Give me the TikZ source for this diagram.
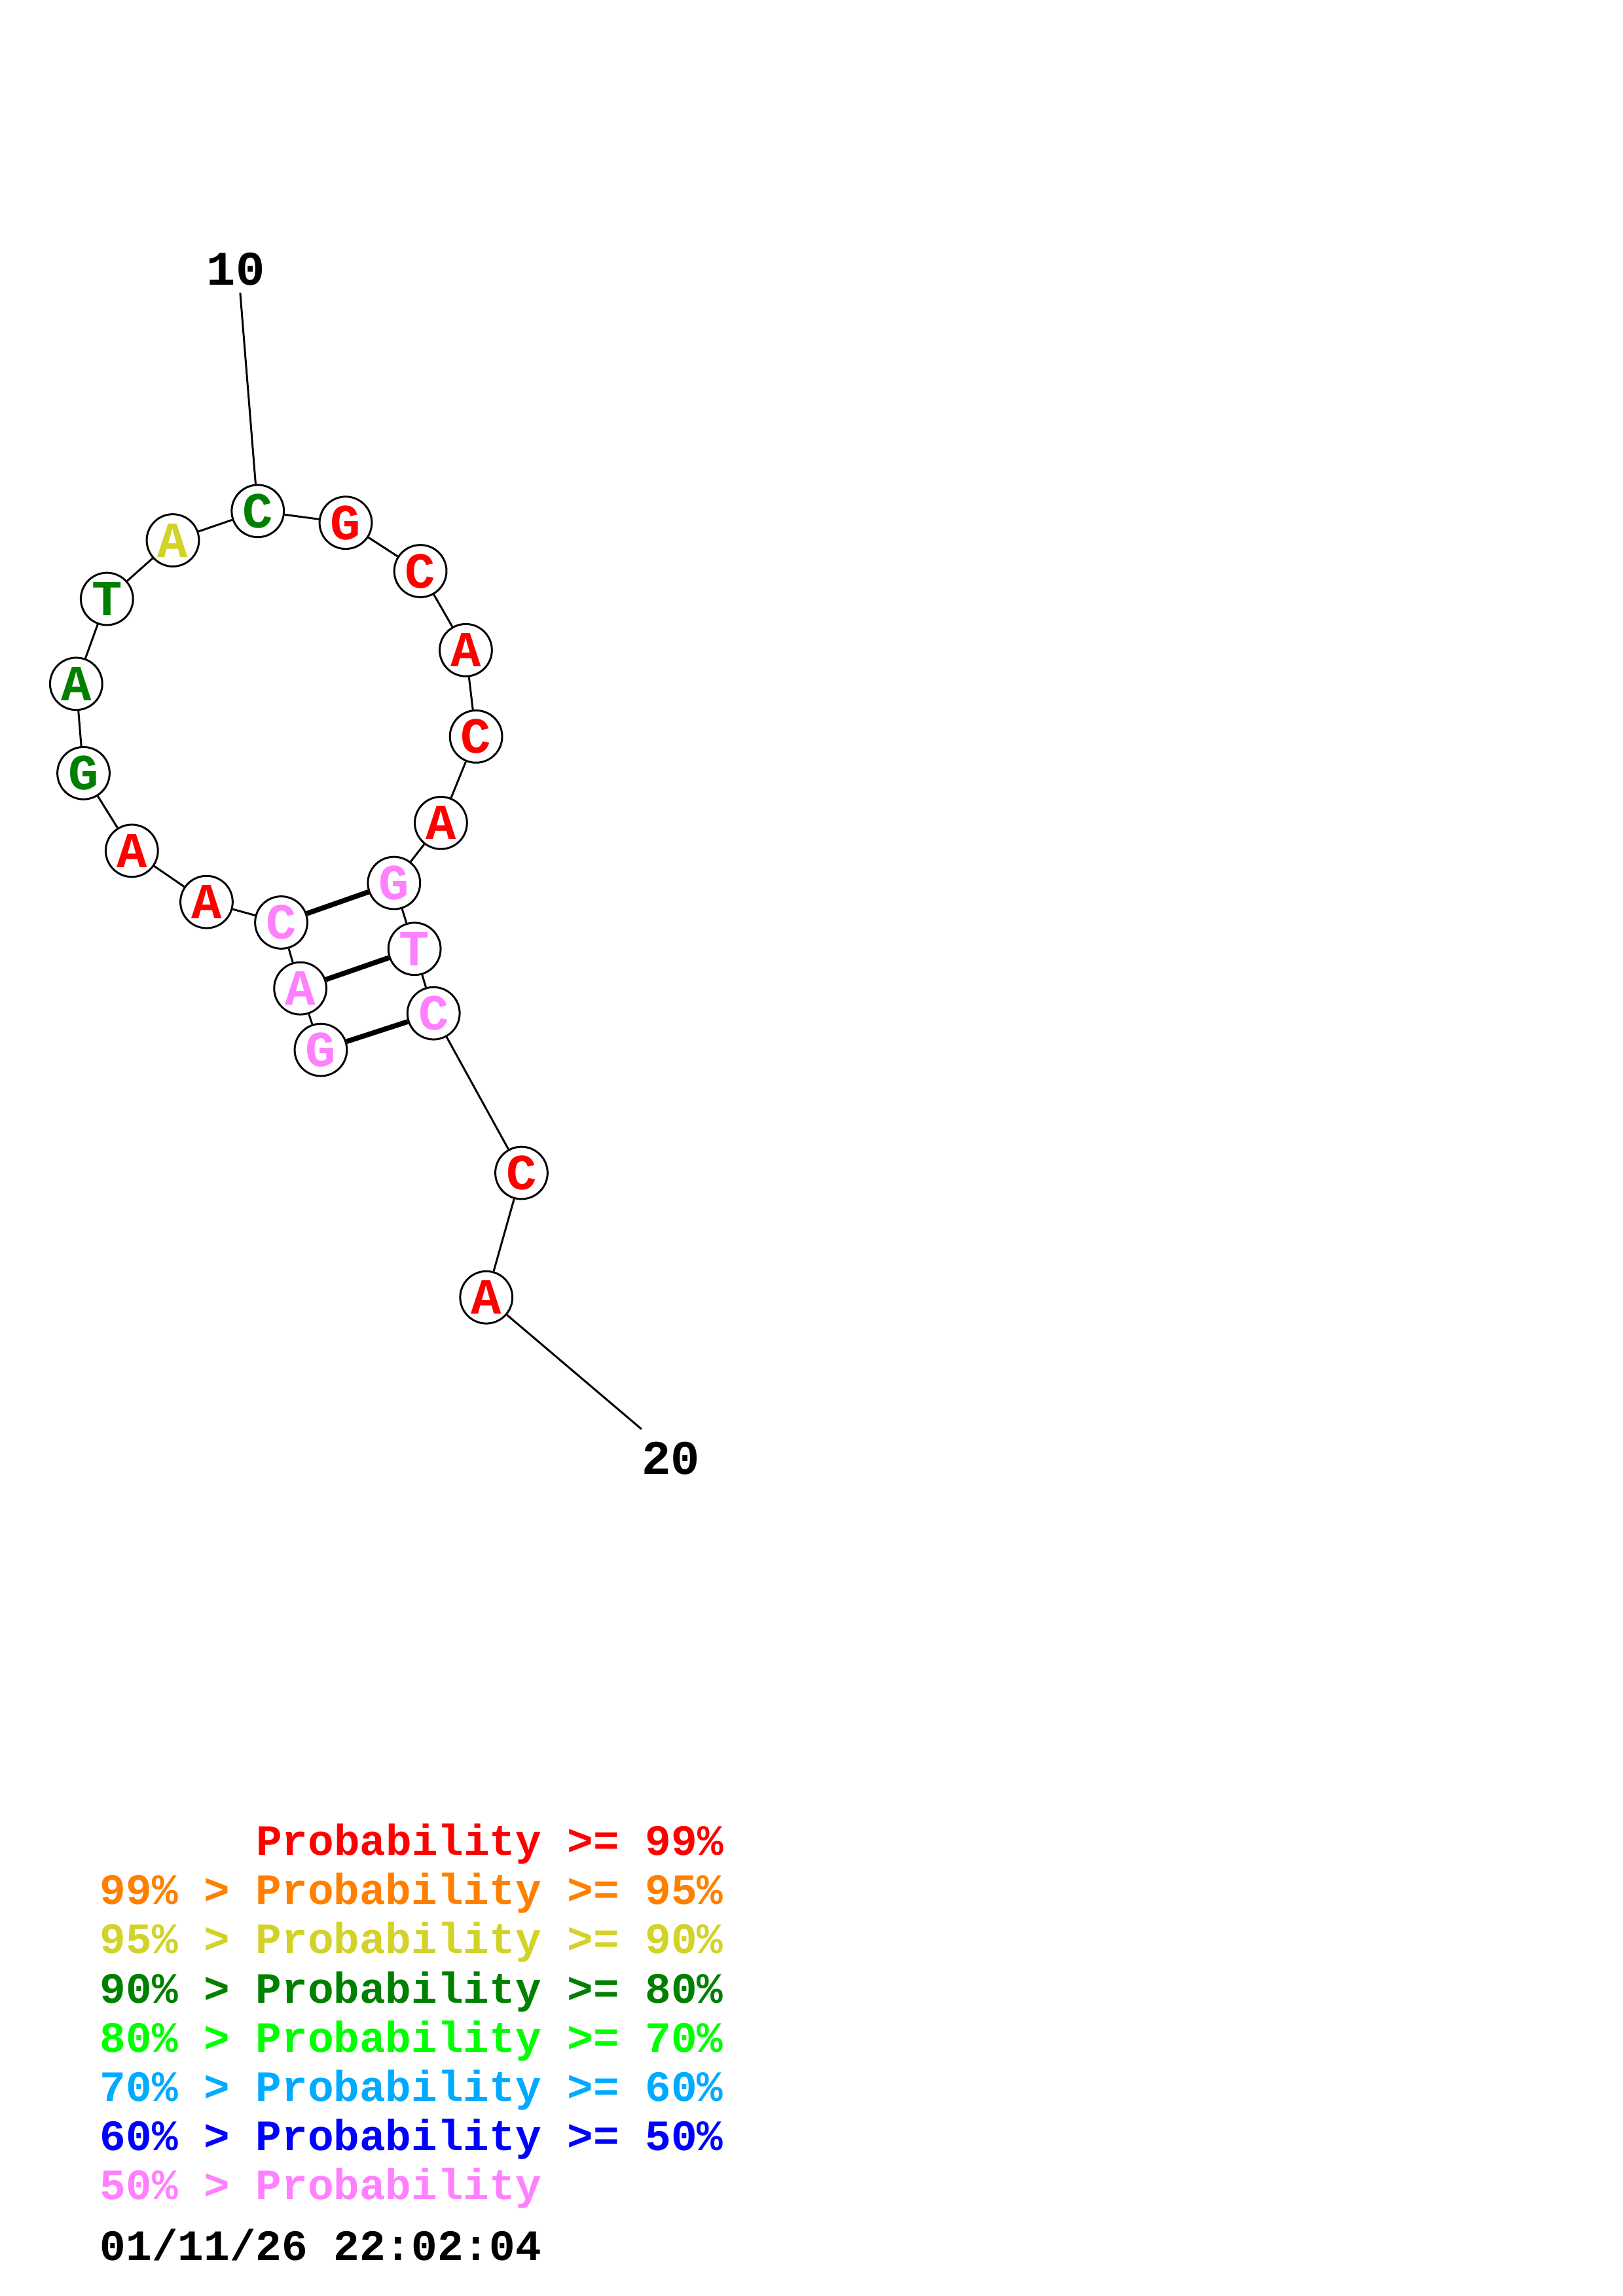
\documentclass[tikz,border=0pt]{standalone}
\usepackage{fontspec}
\newfontfamily\monofont{Liberation Mono}
\definecolor{cred}{RGB}{255,0,0}
\definecolor{corange}{RGB}{255,128,0}
\definecolor{cyellow}{RGB}{210,210,40}
\definecolor{cdgreen}{RGB}{0,128,0}
\definecolor{cgreen}{RGB}{0,255,0}
\definecolor{csky}{RGB}{0,170,255}
\definecolor{cblue}{RGB}{0,0,255}
\definecolor{cpink}{RGB}{255,128,255}
\tikzset{
  nt/.style={circle,draw=black,line width=0.85pt,fill=white,minimum size=22.7pt,inner sep=0pt,
    font=\fontsize{22}{22}\monofont\bfseries},
  bb/.style={line width=0.85pt},
  bp/.style={line width=2.2pt},
  lbl/.style={font=\fontsize{21}{21}\monofont\bfseries,inner sep=0pt},
  leg/.style={font=\fontsize{18.8}{18.8}\monofont\bfseries,inner sep=0pt,anchor=base west},
}
\begin{document}
\begin{tikzpicture}[x=0.022374cm,y=-0.022374cm]
\path[use as bounding box] (0,0) rectangle (1108,1568);
\node[nt,text=cpink] (n1) at (219,717) {G};
\node[nt,text=cpink] (n2) at (205,675) {A};
\node[nt,text=cpink] (n3) at (192,630) {C};
\node[nt,text=cred] (n4) at (141,616) {A};
\node[nt,text=cred] (n5) at (90,581) {A};
\node[nt,text=cdgreen] (n6) at (57,528) {G};
\node[nt,text=cdgreen] (n7) at (52,467) {A};
\node[nt,text=cdgreen] (n8) at (73,409) {T};
\node[nt,text=cyellow] (n9) at (118,369) {A};
\node[nt,text=cdgreen] (n10) at (176,349) {C};
\node[nt,text=cred] (n11) at (236,357) {G};
\node[nt,text=cred] (n12) at (287,390) {C};
\node[nt,text=cred] (n13) at (318,444) {A};
\node[nt,text=cred] (n14) at (325,503) {C};
\node[nt,text=cred] (n15) at (301,562) {A};
\node[nt,text=cpink] (n16) at (269,603) {G};
\node[nt,text=cpink] (n17) at (283,648) {T};
\node[nt,text=cpink] (n18) at (296,692) {C};
\node[nt,text=cred] (n19) at (356,801) {C};
\node[nt,text=cred] (n20) at (332,886) {A};
\node[lbl] (t10) at (161,184) {10};
\node[lbl] (t20) at (458,996) {20};
\coordinate (l10) at (164,200);
\coordinate (l20) at (438,976);
\draw[bb] (n1)--(n2) (n2)--(n3) (n3)--(n4) (n4)--(n5) (n5)--(n6) (n6)--(n7) (n7)--(n8)
  (n8)--(n9) (n9)--(n10) (n10)--(n11) (n11)--(n12) (n12)--(n13) (n13)--(n14) (n14)--(n15)
  (n15)--(n16) (n16)--(n17) (n17)--(n18) (n18)--(n19) (n19)--(n20);
\draw[bb] (l10)--(n10);
\draw[bb] (n20)--(l20);
\draw[bp] (n3)--(n16) (n2)--(n17) (n1)--(n18);
\node[leg,text=cred] (g1) at (174.5,1267) {Probability >= 99\%};
\node[leg,text=corange] (g2) at (68,1300.6) {99\% > Probability >= 95\%};
\node[leg,text=cyellow] (g3) at (68,1334.2) {95\% > Probability >= 90\%};
\node[leg,text=cdgreen] (g4) at (68,1367.8) {90\% > Probability >= 80\%};
\node[leg,text=cgreen] (g5) at (68,1401.4) {80\% > Probability >= 70\%};
\node[leg,text=csky] (g6) at (68,1435) {70\% > Probability >= 60\%};
\node[leg,text=cblue] (g7) at (68,1468.6) {60\% > Probability >= 50\%};
\node[leg,text=cpink] (g8) at (68,1502.2) {50\% > Probability};
\node[leg,text=black] (g9) at (68,1543.5) {01/11/26 22:02:04};
\end{tikzpicture}
\end{document}
